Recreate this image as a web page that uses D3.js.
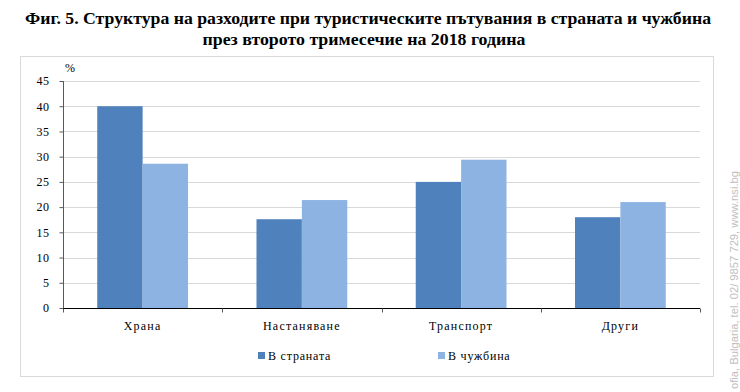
<!DOCTYPE html>
<html>
  <head>
    <meta charset="utf-8" />
    <title>Фиг. 5</title>
    <script src="https://cdn.jsdelivr.net/npm/d3@7/dist/d3.min.js"></script>
    <style>
      html, body {
        margin: 0;
        padding: 0;
        background: white;
      }
      svg { display: block; }
      .title {
        font-family: "Liberation Serif", "DejaVu Serif", serif;
        font-weight: bold;
        font-size: 17px;
        fill: #000;
      }
      .tick text, .lbl {
        font-family: "Liberation Serif", serif;
        font-size: 12px;
        fill: #000;
      }
    </style>
  </head>
  <body>
    <script>
      var categories = ["Храна", "Настаняване", "Транспорт", "Други"];
      var seriesNames = ["В страната", "В чужбина"];
      var domestic = [40.0, 17.6, 25.0, 18.0];
      var abroad = [28.6, 21.4, 29.4, 21.0];
      var yTicks = [0, 5, 10, 15, 20, 25, 30, 35, 40, 45];
      var colors = ["#4f81bd", "#8db3e2"];

      var w = 740, h = 392;
      var plotLeft = 63, plotRight = 700, plotTop = 81, plotBottom = 308;

      var svg = d3.select("body").append("svg")
        .attr("width", w)
        .attr("height", h);

      // title
      svg.append("text").attr("class", "title")
        .attr("x", 368).attr("y", 24)
        .attr("text-anchor", "middle")
        .attr("textLength", 686).attr("lengthAdjust", "spacingAndGlyphs")
        .text("Фиг. 5. Структура на разходите при туристическите пътувания в страната и чужбина");
      svg.append("text").attr("class", "title")
        .attr("x", 364).attr("y", 45)
        .attr("text-anchor", "middle")
        .attr("textLength", 323).attr("lengthAdjust", "spacingAndGlyphs")
        .text("през второто тримесечие на 2018 година");

      // chart frame
      svg.append("rect")
        .attr("x", 20.5).attr("y", 56.5)
        .attr("width", 693).attr("height", 320)
        .attr("fill", "none")
        .attr("stroke", "#d9d9d9");

      var y = d3.scaleLinear().domain([0, 45]).range([plotBottom, plotTop]);

      var x0 = d3.scaleBand()
        .domain(categories)
        .range([plotLeft, plotRight])
        .paddingInner(0.43)
        .paddingOuter(0.215);

      var x1 = d3.scaleBand()
        .domain(seriesNames)
        .range([0, x0.bandwidth()]);

      // gridlines
      svg.append("g")
        .selectAll("line")
        .data(yTicks.slice(1))
        .enter().append("line")
        .attr("x1", plotLeft).attr("x2", plotRight)
        .attr("y1", function(d) { return Math.round(y(d)) + 0.5; })
        .attr("y2", function(d) { return Math.round(y(d)) + 0.5; })
        .attr("stroke", "#d9d9d9");

      // bars
      var rows = categories.map(function(c, i) {
        return { cat: c, vals: [domestic[i], abroad[i]] };
      });

      svg.append("g").selectAll("g")
        .data(rows)
        .enter().append("g")
        .attr("transform", function(d) { return "translate(" + x0(d.cat) + ",0)"; })
        .selectAll("rect")
        .data(function(d) { return d.vals; })
        .enter().append("rect")
        .attr("x", function(d, i) { return x1(seriesNames[i]); })
        .attr("y", function(d) { return y(d); })
        .attr("width", x1.bandwidth())
        .attr("height", function(d) { return plotBottom - y(d); })
        .attr("fill", function(d, i) { return colors[i]; });

      // y axis
      var yAxis = svg.append("g")
        .attr("transform", "translate(" + (plotLeft + 0.5) + ",0)")
        .call(d3.axisLeft(y).tickValues(yTicks).tickSize(4).tickPadding(10));
      yAxis.selectAll("line, path").attr("stroke", "#595959");
      yAxis.select(".domain").attr("d", "M0," + plotTop + "V" + plotBottom);
      yAxis.selectAll(".tick text").attr("letter-spacing", "0.5px");

      svg.append("text").attr("class", "lbl")
        .attr("x", 65).attr("y", 72)
        .text("%");

      // x axis
      var xAxis = svg.append("g")
        .attr("transform", "translate(0," + (plotBottom + 0.5) + ")")
        .call(d3.axisBottom(x0).tickSize(0).tickPadding(13));
      xAxis.select(".domain").attr("stroke", "#000").attr("d", "M" + plotLeft + ",0H" + plotRight);
      xAxis.selectAll(".tick text").attr("letter-spacing", "1.2px");

      var bounds = d3.range(categories.length + 1).map(function(i) {
        return plotLeft + i * x0.step();
      });
      xAxis.selectAll(".bound")
        .data(bounds)
        .enter().append("line")
        .attr("class", "bound")
        .attr("x1", function(d) { return Math.round(d) + 0.5; })
        .attr("x2", function(d) { return Math.round(d) + 0.5; })
        .attr("y1", 0).attr("y2", 4)
        .attr("stroke", "#595959");

      // legend
      var legendX = [258, 438];
      var legend = svg.append("g").selectAll("g")
        .data(seriesNames)
        .enter().append("g")
        .attr("transform", function(d, i) { return "translate(" + legendX[i] + ",352)"; });
      legend.append("rect")
        .attr("width", 7).attr("height", 7)
        .attr("fill", function(d, i) { return colors[i]; });
      legend.append("text").attr("class", "lbl")
        .attr("x", 10).attr("y", 8)
        .attr("letter-spacing", "0.8px")
        .text(function(d) { return d; });

      // side note (only the part visible in the original crop)
      svg.append("text")
        .attr("transform", "translate(738,389) rotate(-90)")
        .attr("font-family", "Liberation Sans, Arial, sans-serif")
        .attr("font-size", "11.5px")
        .attr("fill", "#c0c0c0")
        .attr("textLength", 218).attr("lengthAdjust", "spacingAndGlyphs")
        .text("ofia, Bulgaria, tel. 02/ 9857 729, www.nsi.bg");
    </script>
  </body>
</html>
